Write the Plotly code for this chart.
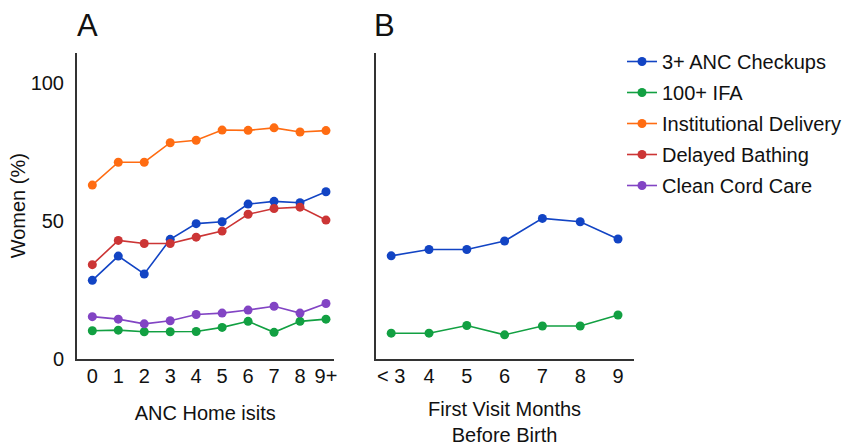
import plotly.graph_objects as go

# Panel A data
home_visits = ["0", "1", "2", "3", "4", "5", "6", "7", "8", "9+"]
a_anc = [28.4, 37.2, 30.7, 43.3, 49.0, 49.7, 56.1, 57.1, 56.6, 60.6]
a_ifa = [10.1, 10.3, 9.7, 9.7, 9.8, 11.3, 13.5, 9.5, 13.5, 14.3]
a_inst = [63.0, 71.3, 71.3, 78.4, 79.3, 83.0, 82.9, 83.8, 82.3, 82.8]
a_bath = [34.1, 42.9, 41.8, 41.8, 44.1, 46.3, 52.4, 54.5, 55.0, 50.3]
a_cord = [15.2, 14.3, 12.6, 13.7, 16.0, 16.5, 17.6, 19.0, 16.5, 20.0]

# Panel B data
first_visit = ["< 3", "4", "5", "6", "7", "8", "9"]
b_anc = [37.3, 39.6, 39.6, 42.7, 50.9, 49.7, 43.4]
b_ifa = [9.2, 9.2, 12.0, 8.6, 11.8, 11.8, 15.8]

names = ["3+ ANC Checkups", "100+ IFA", "Institutional Delivery", "Delayed Bathing", "Clean Cord Care"]
colors = ["#1244c4", "#12a042", "#ff6c12", "#cc3535", "#8244c4"]

FONT = "Liberation Sans, Arial, Helvetica, sans-serif"
FS = 20

fig = go.Figure()
a_series = [a_anc, a_ifa, a_inst, a_bath, a_cord]
for i, (nm, col, ys) in enumerate(zip(names, colors, a_series)):
    fig.add_trace(go.Scatter(
        x=list(range(len(home_visits))), y=ys, mode="lines+markers", name=nm,
        line=dict(color=col, width=1.6), marker=dict(color=col, size=9),
        xaxis="x", yaxis="y", showlegend=True, legendgroup="g%d" % i))
for i, (nm, col, ys) in enumerate(zip(names[:2], colors[:2], [b_anc, b_ifa])):
    fig.add_trace(go.Scatter(
        x=list(range(len(first_visit))), y=ys, mode="lines+markers", name=nm,
        line=dict(color=col, width=1.6), marker=dict(color=col, size=9),
        xaxis="x2", yaxis="y2", showlegend=False, legendgroup="g%d" % i))

W, H = 846, 446
ybot = 1 - 358.5 / H
ytop = 1 - 53 / H
axline = dict(showline=True, linecolor="#333333", linewidth=2, showgrid=False,
              zeroline=False, ticks="", automargin=False,
              tickfont=dict(size=FS, color="#111111", family=FONT))

fig.update_layout(
    width=W, height=H, margin=dict(l=0, r=0, t=0, b=0, autoexpand=False),
    plot_bgcolor="white", paper_bgcolor="white",
    font=dict(family=FONT, color="#111111"),
    xaxis=dict(domain=[77 / W, 333.5 / W], range=[-0.59, 9.29], anchor="y",
               tickmode="array", tickvals=list(range(len(home_visits))), ticktext=home_visits,
               ticklabelstandoff=-2,
               title=dict(text="ANC Home isits", font=dict(size=FS), standoff=20),
               **axline),
    yaxis=dict(domain=[ybot, ytop], range=[0, 111], anchor="x",
               tickvals=[0, 50, 100], ticklabelstandoff=7,
               title=dict(text="Women (%)", font=dict(size=FS), standoff=0),
               **axline),
    xaxis2=dict(domain=[375.7 / W, 633.5 / W], range=[-0.41, 6.41], anchor="y2",
                tickmode="array", tickvals=list(range(len(first_visit))), ticktext=first_visit,
                ticklabelstandoff=-2,
                title=dict(text="First Visit Months<br>Before Birth", font=dict(size=FS), standoff=36),
                **axline),
    yaxis2=dict(domain=[ybot, ytop], range=[0, 111], anchor="x2",
                showticklabels=False, **axline),
    legend=dict(x=622 / W, y=1 - 42 / H, xanchor="left", yanchor="top",
                font=dict(size=FS, color="#111111"), tracegroupgap=2,
                itemwidth=30, bgcolor="rgba(0,0,0,0)"),
    annotations=[
        dict(text="A", x=75 / W, y=1 - 6 / H, xref="paper", yref="paper",
             xanchor="left", yanchor="top", showarrow=False, font=dict(size=31, color="#111111")),
        dict(text="B", x=372 / W, y=1 - 6 / H, xref="paper", yref="paper",
             xanchor="left", yanchor="top", showarrow=False, font=dict(size=31, color="#111111")),
    ],
)

fig.write_html("out.html")
